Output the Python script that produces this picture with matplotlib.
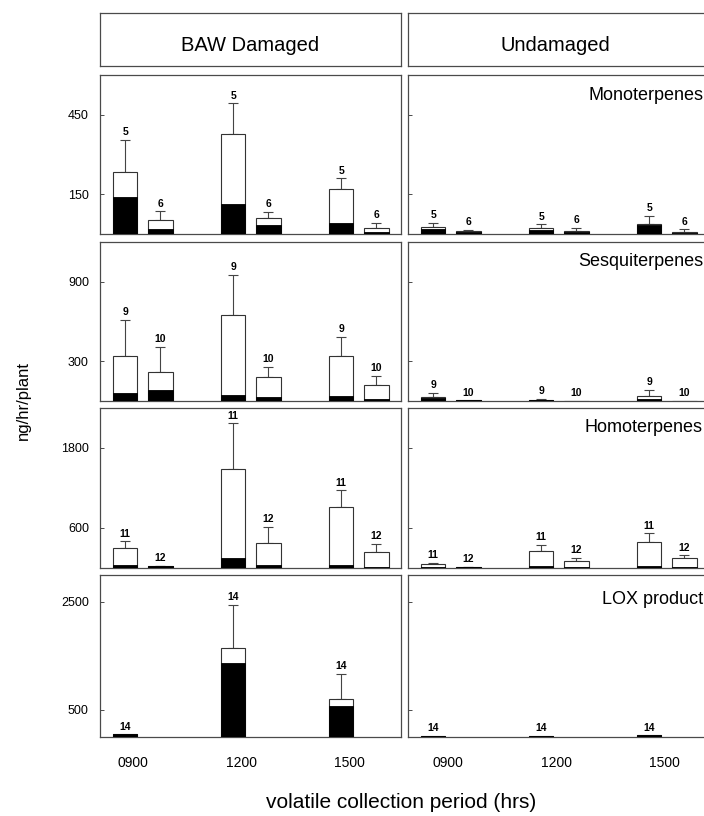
import matplotlib
matplotlib.use("Agg")
import matplotlib.pyplot as plt
import numpy as np

plt.rcParams['font.family'] = ['Liberation Sans', 'DejaVu Sans']

periods = ["0900", "1200", "1500"]
treatments = ["BAW Damaged", "Undamaged"]
classes = ["Monoterpenes", "Sesquiterpenes", "Homoterpenes", "LOX product"]

# two bars per collection period: (first, second) for 0900, 1200, 1500
# total = whole bar, solid = black lower part, sem = upward error bar
mono_dmg_total = [235, 52, 378, 59, 169, 24]
mono_dmg_solid = [141, 20, 114, 33, 42, 8]
mono_dmg_sem = [119, 33, 115, 24, 41, 19]
mono_und_total = [25, 10, 22, 10, 38, 8]
mono_und_solid = [20, 6, 16, 7, 33, 5]
mono_und_sem = [17, 5, 14, 13, 31, 9]

sesq_dmg_total = [340, 219, 652, 181, 340, 121]
sesq_dmg_solid = [60, 83, 48, 30, 35, 13]
sesq_dmg_sem = [270, 189, 300, 76, 144, 68]
sesq_und_total = [33, 5, 10, 3, 38, 3]
sesq_und_solid = [25, 4, 8, 2, 15, 2]
sesq_und_sem = [27, 0, 4, 0, 45, 0]

homo_dmg_total = [306, 25, 1480, 372, 908, 240]
homo_dmg_solid = [51, 25, 153, 51, 51, 10]
homo_dmg_sem = [92, 11, 690, 240, 255, 117]
homo_und_total = [61, 15, 255, 107, 393, 148]
homo_und_solid = [15, 10, 25, 15, 25, 15]
homo_und_sem = [16, 5, 92, 41, 127, 41]

lox_dmg_total = [50, 0, 1657, 0, 712, 0]
lox_dmg_solid = [50, 0, 1374, 0, 567, 0]
lox_dmg_sem = [0, 0, 788, 0, 454, 0]
lox_und_total = [20, 0, 15, 0, 30, 0]
lox_und_solid = [20, 0, 15, 0, 30, 0]
lox_und_sem = [0, 0, 0, 0, 0, 0]

# numbers printed above the first / second bar of each pair
mono_ids = ["5", "6"]
sesq_ids = ["9", "10"]
homo_ids = ["11", "12"]
lox_ids = ["14", None]

y_max = [600, 1200, 2400, 3000]
y_ticks = [[150, 450], [300, 900], [600, 1800], [500, 2500]]

rows = [
    (mono_ids, (mono_dmg_total, mono_dmg_solid, mono_dmg_sem),
     (mono_und_total, mono_und_solid, mono_und_sem)),
    (sesq_ids, (sesq_dmg_total, sesq_dmg_solid, sesq_dmg_sem),
     (sesq_und_total, sesq_und_solid, sesq_und_sem)),
    (homo_ids, (homo_dmg_total, homo_dmg_solid, homo_dmg_sem),
     (homo_und_total, homo_und_solid, homo_und_sem)),
    (lox_ids, (lox_dmg_total, lox_dmg_solid, lox_dmg_sem),
     (lox_und_total, lox_und_solid, lox_und_sem)),
]

W, H = 704, 816
fig = plt.figure(figsize=(W / 100, H / 100), dpi=100)

edge = "#4a4a4a"
col_left = [100, 408]
col_width = 301
row_spans = [(75, 234), (242, 401), (408, 568), (575, 737)]
title_drop = [20, 20, 20, 25]

group_pos = np.arange(3) * 3 + 0.7
xpos = np.ravel([[g, g + 0.98] for g in group_pos])
bar_w = 0.67
tick_shift = [0.22, 0.42]


def px_axes(x0, top, w, bottom):
    return fig.add_axes([x0 / W, 1 - bottom / H, w / W, (bottom - top) / H])


# header strips
for c, name in enumerate(treatments):
    hax = px_axes(col_left[c], 13, col_width, 66)
    hax.set_xticks([])
    hax.set_yticks([])
    for s in hax.spines.values():
        s.set_color(edge)
        s.set_linewidth(0.9)
    hax.text(0.5 if c == 0 else 0.49, 0.38, name, transform=hax.transAxes,
             ha="center", va="center", fontsize=14.5)

for r, (ids, dmg, und) in enumerate(rows):
    top, bottom = row_spans[r]
    for c, (total, solid, sem) in enumerate([dmg, und]):
        ax = px_axes(col_left[c], top, col_width, bottom)
        ax.set_xlim(0, col_width / 36)
        ax.set_ylim(0, y_max[r])

        total = np.array(total, dtype=float)
        solid = np.array(solid, dtype=float)
        sem = np.array(sem, dtype=float)
        show = total > 0

        ax.bar(xpos[show], total[show], width=bar_w, color="white",
               edgecolor="#333333", linewidth=0.8, zorder=2)
        ax.bar(xpos[show], solid[show], width=bar_w, color="black",
               edgecolor="black", linewidth=0.6, zorder=3)

        has_err = sem > 0
        ax.errorbar(xpos[has_err], total[has_err],
                    yerr=[np.zeros(has_err.sum()), sem[has_err]],
                    fmt="none", ecolor="#444444", elinewidth=0.8,
                    capsize=3.6, capthick=0.8, zorder=1)

        for i in range(len(xpos)):
            lab = ids[i % 2]
            if lab is None or not show[i]:
                continue
            ax.annotate(lab, (xpos[i], total[i] + sem[i]),
                        xytext=(0, 2), textcoords="offset points",
                        ha="center", va="bottom", fontsize=7.5,
                        fontweight="bold")

        ax.set_yticks(y_ticks[r])
        ax.tick_params(axis="y", direction="in", length=3, width=0.7,
                       colors=edge, labelcolor="black", labelsize=9, pad=8)
        if c == 1:
            ax.tick_params(axis="y", labelleft=False)

        if r == len(rows) - 1:
            ax.set_xticks(group_pos + tick_shift[c])
            ax.set_xticklabels(periods, fontsize=10)
            ax.tick_params(axis="x", length=0, pad=14)
        else:
            ax.set_xticks([])

        for s in ax.spines.values():
            s.set_color(edge)
            s.set_linewidth(0.9)

    fig.text(703 / W, 1 - (top + title_drop[r]) / H, classes[r], ha="right",
             va="center", fontsize=13)

fig.text(23 / W, 1 - 400 / H, "ng/hr/plant", rotation=90, ha="center",
         va="center", fontsize=12)
fig.text(401 / W, 1 - 803 / H, "volatile collection period (hrs)",
         ha="center", va="center", fontsize=15)

fig.savefig("out.png", dpi=100)
